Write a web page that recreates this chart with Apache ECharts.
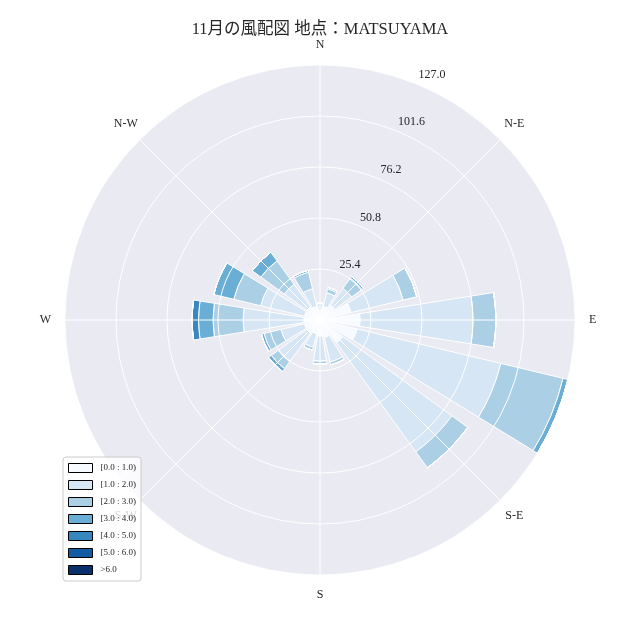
<!DOCTYPE html>
<html><head><meta charset="utf-8">
<script src="https://cdn.jsdelivr.net/npm/echarts@6/dist/echarts.min.js"></script>
<style>html,body{margin:0;padding:0;background:#fff}#c{width:640px;height:640px}</style>
</head><body><div id="c"></div>
<script>
// 16 wind directions (N clockwise)
const directions = ['N','NNE','NE','ENE','E','ESE','SE','SSE','S','SSW','SW','WSW','W','WNW','NW','NNW'];
const compassLabels = ['N','N-E','E','S-E','S','S-W','W','N-W'];
const binLabels = ['[0.0 : 1.0)','[1.0 : 2.0)','[2.0 : 3.0)','[3.0 : 4.0)','[4.0 : 5.0)','[5.0 : 6.0)','>6.0'];
const binColors = ['#f7fbff','#d6e6f4','#abd0e6','#6aaed6','#3787c0','#105ba4','#08306b'];
const radialTicks = [25.4, 50.8, 76.2, 101.6, 127.0];
const radialMax = 127.0;
const radialStep = 25.4;
// frequency of each speed bin for each direction
const bin0 = [4.5, 7, 9, 16, 20, 19, 14, 9, 8, 7, 8, 8, 8, 8, 8, 7];
const bin1 = [4, 7, 10.5, 26.6, 56.2, 73.6, 67.2, 12.5, 12.5, 7, 17.7, 12, 30.3, 22.4, 14, 9];
const bin2 = [0, 2, 6.3, 7, 11.4, 31.9, 9.8, 1.5, 1.5, 1.5, 4.3, 8.7, 15, 13.8, 14.4, 8.5];
const bin3 = [0, 0.7, 1.0, 0, 0, 2.5, 0, 0, 0, 0, 1.7, 1.3, 7.2, 10.2, 5.3, 1];
const bin4 = [0, 0, 0, 0, 0, 0, 0, 0, 0, 0, 0, 0, 3.2, 0, 0, 0];
const bin5 = [0, 0, 0, 0, 0, 0, 0, 0, 0, 0, 0, 0, 0, 0, 0, 0];
const bin6 = [0, 0, 0, 0, 0, 0, 0, 0, 0, 0, 0, 0, 0, 0, 0, 0];
const bins = [bin0, bin1, bin2, bin3, bin4, bin5, bin6];

const FONT = '"Liberation Serif", "Noto Sans CJK JP", serif';
const TXT = '#262626';
const chart = echarts.init(document.getElementById('c'), null, {renderer: 'canvas'});

const hiddenAxis = {axisLine:{show:false}, axisTick:{show:false}, axisLabel:{show:false}, splitLine:{show:false}};

const series = bins.map((b, i) => ({
  type: 'bar', name: binLabels[i], coordinateSystem: 'polar', polarIndex: 0,
  stack: 'wind', data: b, barCategoryGap: '20%',
  itemStyle: {color: binColors[i], borderColor: '#ffffff', borderWidth: 1},
  emphasis: {disabled: true}, z: 2
}));

chart.setOption({
  animation: false,
  backgroundColor: '#ffffff',
  title: {
    text: '11月の風配図 地点：MATSUYAMA', left: 'center', top: 16,
    textStyle: {fontFamily: FONT, fontSize: 16.5, fontWeight: 'normal', color: TXT}
  },
  legend: {
    data: binLabels, orient: 'vertical', left: 63, top: 457, z: 10,
    padding: [6, 5, 6, 5], itemWidth: 24, itemHeight: 9, itemGap: 7,
    icon: 'rect', backgroundColor: 'rgba(255,255,255,0.8)', borderColor: '#cccccc',
    borderWidth: 1, borderRadius: 3,
    itemStyle: {borderColor: '#000000', borderWidth: 1},
    textStyle: {fontFamily: FONT, fontSize: 9, color: TXT, padding: [0, 0, 0, 3]}, selectedMode: false
  },
  polar: [
    {center: [320, 320], radius: 255},
    {center: [320, 320], radius: 255},
    {center: [329.5, 312.5], radius: 259}
  ],
  angleAxis: [
    Object.assign({polarIndex: 0, type: 'category', data: directions, startAngle: 90 + 360 / 32, clockwise: true, z: 0}, hiddenAxis),
    {polarIndex: 1, type: 'value', min: 0, max: 360, interval: 45, startAngle: 90, clockwise: true, z: 5,
     axisLine: {show: false}, axisTick: {show: false},
     splitLine: {show: true, lineStyle: {color: '#ffffff', width: 1}},
     axisLabel: {show: true, margin: 14,
       fontFamily: FONT, fontSize: 12, color: TXT,
       rich: {d: {width: 8, align: 'center', fontFamily: FONT, fontSize: 12, color: TXT}},
       formatter: v => {
         const k = Math.round(v / 45) % 8;
         return k % 2 ? '{d|' + compassLabels[k] + '}' : compassLabels[k];
       }}},
    Object.assign({polarIndex: 2, type: 'value', min: 0, max: 360, startAngle: 90 - 23.3, clockwise: true}, hiddenAxis)
  ],
  radiusAxis: [
    {polarIndex: 0, type: 'value', min: 0, max: radialMax, interval: radialStep, z: 0,
     axisLine: {show: false}, axisTick: {show: false}, axisLabel: {show: false}, splitLine: {show: false},
     splitArea: {show: true, areaStyle: {color: ['#EAEAF2']}}},
    {polarIndex: 1, type: 'value', min: 0, max: radialMax, interval: radialStep, z: 5,
     axisLine: {show: false}, axisTick: {show: false}, axisLabel: {show: false},
     splitLine: {show: true, lineStyle: {color: '#ffffff', width: 1}}},
    {polarIndex: 2, type: 'value', min: 0, max: radialMax, interval: radialStep, z: 6,
     axisLine: {show: false}, axisTick: {show: false}, splitLine: {show: false},
     axisLabel: {show: true, margin: 0, align: 'center', verticalAlign: 'middle',
       fontFamily: FONT, fontSize: 12, color: TXT,
       formatter: v => (radialTicks.some(t => Math.abs(t - v) < 1e-6) ? v.toFixed(1) : '')}}
  ],
  series: series
});
</script>
</body></html>
